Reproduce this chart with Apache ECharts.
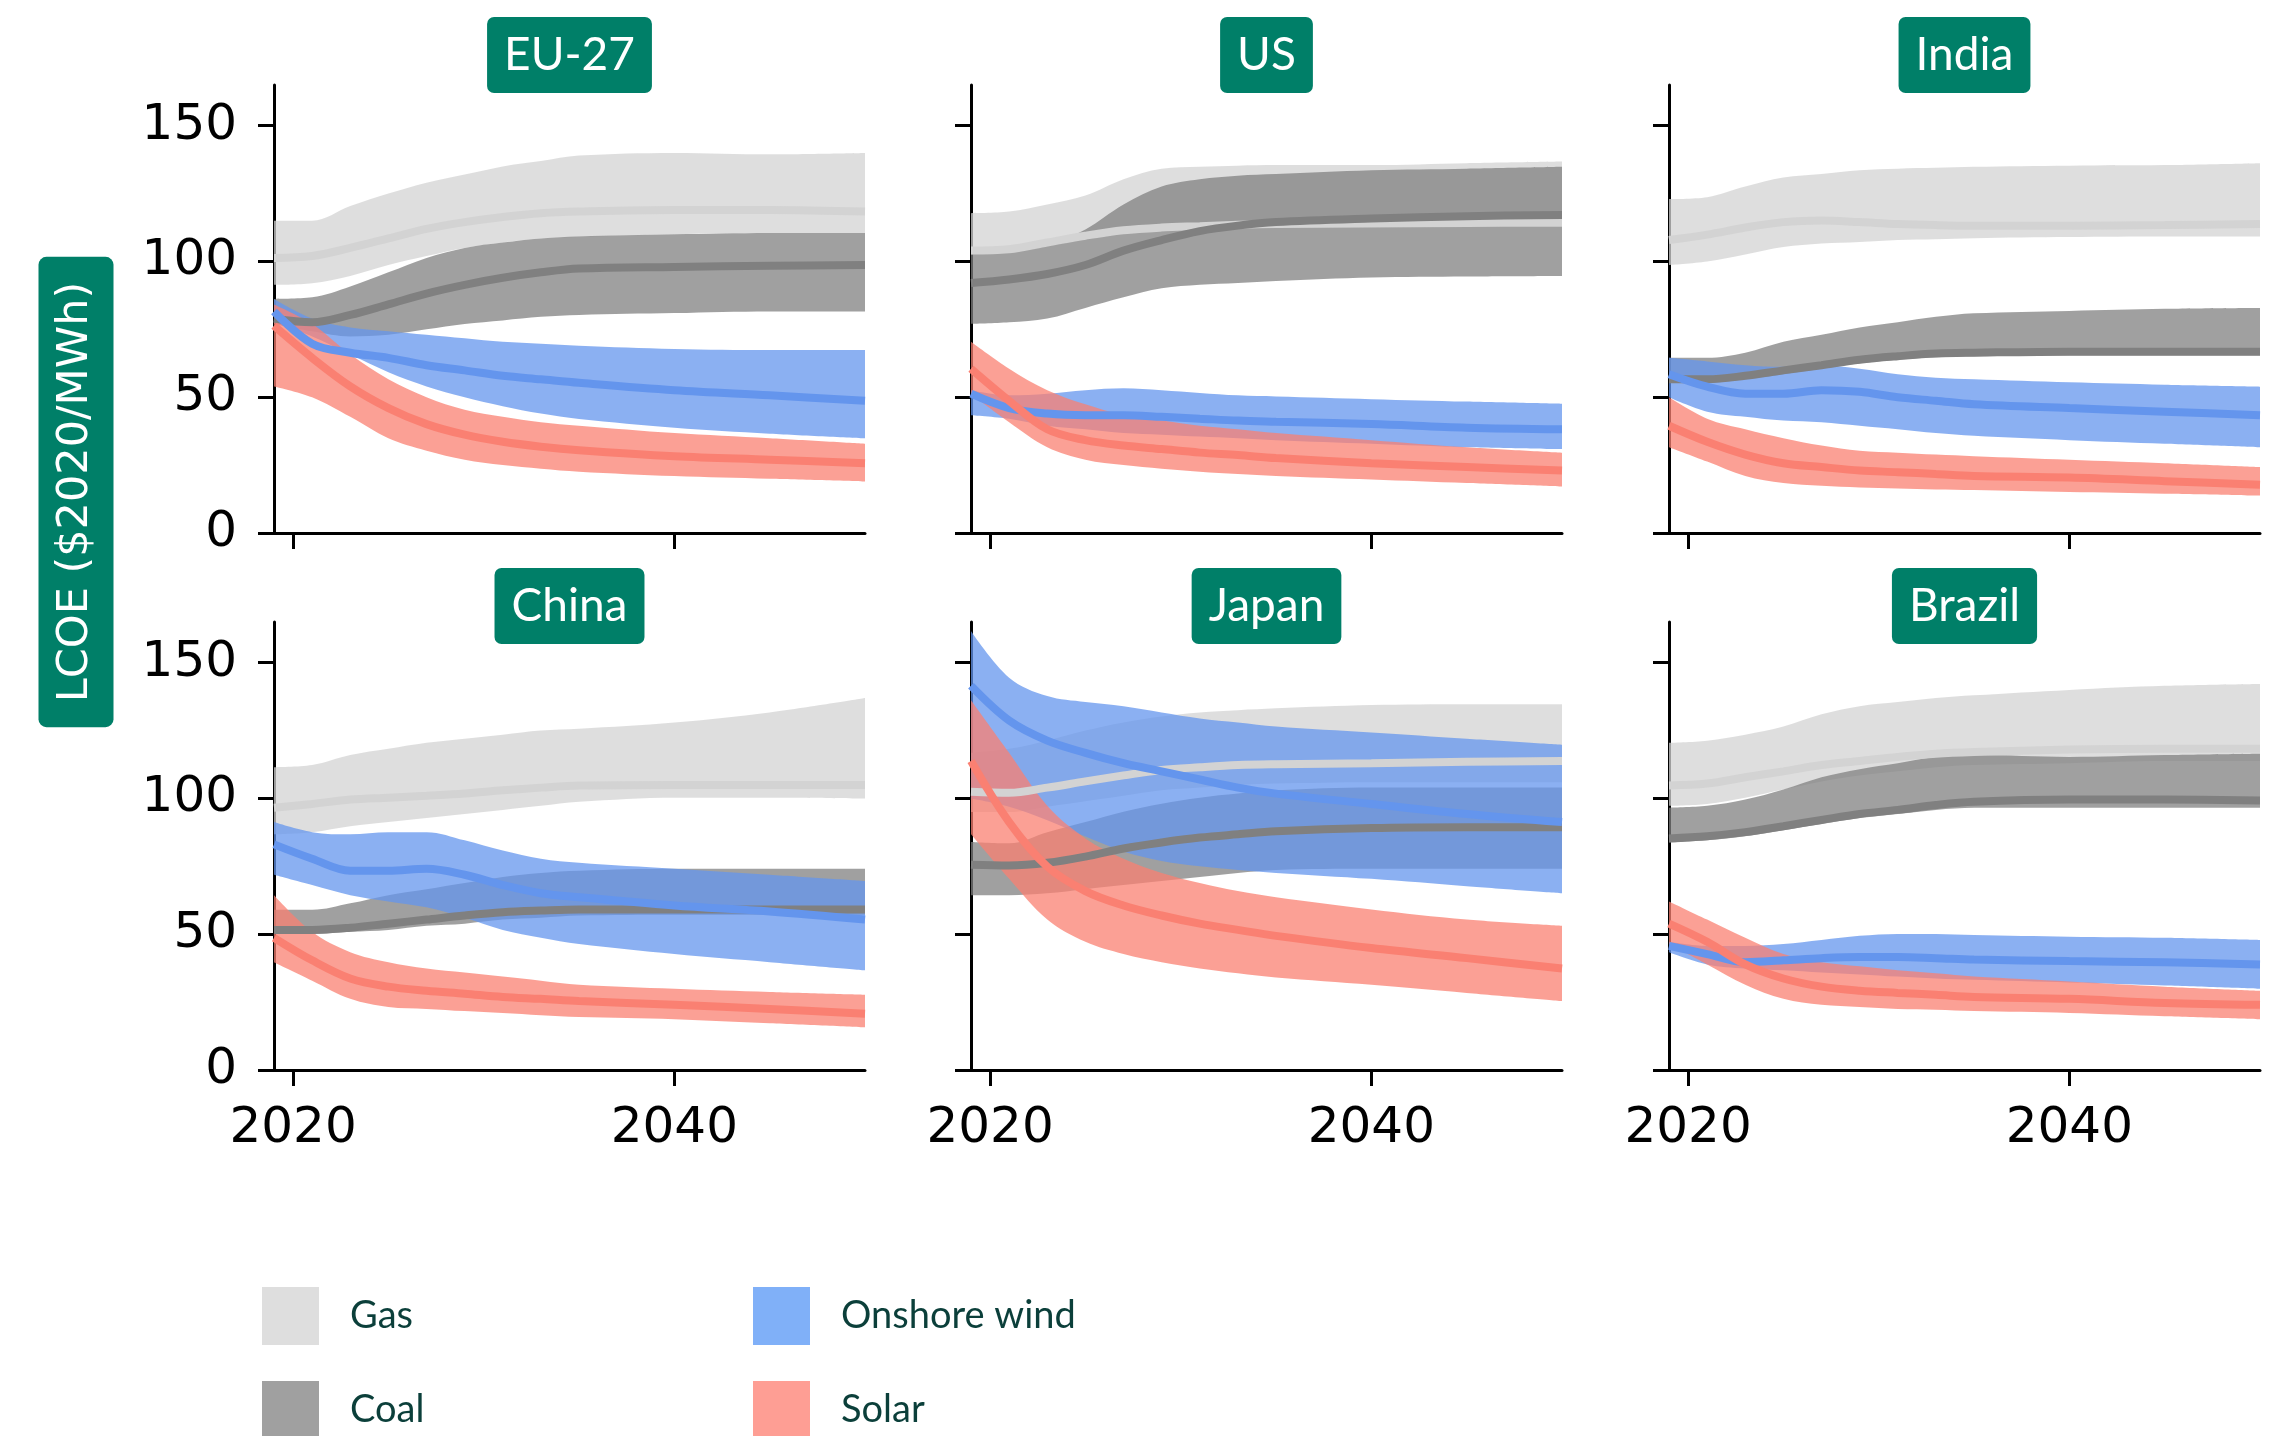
<!DOCTYPE html>
<html>
<head>
<meta charset="utf-8">
<title>LCOE projections by region</title>
<script src="https://cdn.jsdelivr.net/npm/echarts@6/dist/echarts.min.js"></script>
<style>
  html, body { margin: 0; padding: 0; background: #ffffff; }
  #chart { width: 2275px; height: 1436px; }
</style>
</head>
<body>
<div id="chart"></div>
<script>
// Sample years shared by every curve
const YEARS = [2019, 2021, 2023, 2025, 2027, 2029, 2031, 2033, 2035, 2040, 2045, 2050];

const REGIONS = ['EU-27', 'US', 'India', 'China', 'Japan', 'Brazil'];
const TECHS = ['Gas', 'Coal', 'Onshore wind', 'Solar'];
const X_TICKS = [2020, 2040];
const Y_TICKS = [0, 50, 100, 150];

// LCOE ($2020/MWh): low / median / high per region and technology
// EU-27
const EU27_GAS_LO  = [91.4, 92, 94.7, 98.7, 102, 105, 107, 108.5, 109, 110, 110.5, 110.5];
const EU27_GAS_MID = [101.3, 102, 105, 108.5, 112, 114.5, 116.4, 117.8, 118.4, 119, 119, 118.4];
const EU27_GAS_HI  = [115, 115, 120.4, 125, 129, 132, 135, 137, 139, 140, 139.5, 140];
const EU27_COAL_LO  = [77, 74.3, 72.4, 73, 75, 77, 78.3, 79.6, 80.3, 81, 81.6, 81.6];
const EU27_COAL_MID = [79, 77.6, 80.3, 84.2, 88.2, 91.4, 94, 96, 97.4, 98, 98.4, 98.7];
const EU27_COAL_HI  = [86.2, 86.8, 90.8, 96, 101.3, 105, 107, 108.5, 109.2, 110, 110.5, 110.5];
const EU27_WIND_LO  = [77.6, 72.4, 65.8, 59.2, 54, 50, 46.7, 44, 42, 38.8, 36.6, 34.9];
const EU27_WIND_MID = [81.6, 69.7, 66.4, 64.5, 61.8, 59.9, 57.9, 56.6, 55.3, 52.6, 50.7, 48.7];
const EU27_WIND_HI  = [86.2, 79, 75.7, 74.3, 73, 71.7, 70.4, 69.7, 69, 67.8, 67.4, 67.4];
const EU27_SOLAR_LO  = [54, 50, 42.8, 34.9, 30.3, 27, 25, 23.7, 22.6, 21, 20, 19];
const EU27_SOLAR_MID = [76.3, 64.5, 54, 46, 40.1, 36.2, 33.6, 31.8, 30.5, 28.3, 27, 25.7];
const EU27_SOLAR_HI  = [84.2, 77, 65.8, 56.6, 50, 45.4, 42.8, 40.8, 39.5, 36.8, 34.9, 32.9];

// US
const US_GAS_LO  = [102.5, 103, 105.5, 108, 110, 111, 111.5, 112, 112.3, 112.5, 112.7, 112.8];
const US_GAS_MID = [104, 104.5, 107, 109.5, 111.5, 112.5, 113, 113.5, 113.8, 114, 114.2, 114.3];
const US_GAS_HI  = [117.8, 118.4, 121, 124.3, 130.3, 134.2, 134.9, 135.3, 135.5, 135.5, 136.2, 136.8];
const US_COAL_LO  = [77, 77.6, 79, 82.9, 86.8, 90.1, 91.4, 92.1, 92.8, 94.1, 94.5, 94.7];
const US_COAL_MID = [92.1, 93.4, 95.4, 98.7, 104, 107.9, 111.2, 113.2, 114.5, 115.8, 116.7, 117.1];
const US_COAL_HI  = [103.3, 104, 106, 111.8, 121, 127.6, 130.3, 131.6, 132.2, 133.6, 134.2, 134.9];
const US_WIND_LO  = [43.4, 42.1, 39.5, 38.2, 36.8, 36.2, 35.5, 34.9, 34.2, 32.9, 31.6, 30.9];
const US_WIND_MID = [51.3, 46, 44, 43.4, 43.4, 42.8, 42.1, 41.4, 41, 40.1, 38.8, 38.2];
const US_WIND_HI  = [52.6, 50.7, 51.3, 52.6, 53.3, 52.6, 51.6, 50.7, 50.3, 49.3, 48.4, 47.6];
const US_SOLAR_LO  = [51.3, 40.8, 31.6, 27, 25, 23.7, 22.6, 21.7, 21, 19.7, 18.4, 17.1];
const US_SOLAR_MID = [60.5, 48.7, 38.2, 34.2, 32.2, 30.9, 29.6, 28.7, 27.6, 25.7, 24.3, 23];
const US_SOLAR_HI  = [70.4, 60.5, 52.6, 47.4, 43.4, 41.4, 39.5, 38.2, 36.8, 34.2, 31.6, 29.6];

// India
const IN_GAS_LO  = [98.7, 100, 102.6, 105.3, 106.6, 107.2, 107.9, 108.2, 108.6, 109, 109.2, 109.2];
const IN_GAS_MID = [107.9, 109.9, 112.5, 114.5, 115.1, 114.5, 113.8, 113.4, 113.2, 113.2, 113.4, 113.8];
const IN_GAS_HI  = [123, 123.7, 127.6, 130.9, 132.2, 133.6, 134.2, 134.5, 134.9, 135.3, 135.5, 136.2];
const IN_COAL_LO  = [55.3, 55.3, 56.6, 58.5, 60.5, 62.5, 63.8, 64.7, 65.1, 65.5, 65.5, 65.5];
const IN_COAL_MID = [56.6, 56.6, 57.9, 59.9, 61.8, 63.8, 65.1, 66.1, 66.4, 66.8, 66.8, 66.8];
const IN_COAL_HI  = [64.5, 64.5, 66.4, 70.4, 73, 75.7, 77.6, 79.6, 80.9, 81.8, 82.6, 82.9];
const IN_WIND_LO  = [50, 44.7, 42.8, 41.4, 40.8, 39.5, 38.2, 36.8, 35.8, 34.2, 32.9, 31.6];
const IN_WIND_MID = [58.5, 53.9, 51.3, 51.3, 52.6, 52, 50, 48.7, 47.4, 46, 44.7, 43.4];
const IN_WIND_HI  = [64.5, 63.2, 61.8, 61.2, 61.8, 60.5, 58.5, 57.2, 56.6, 55.5, 54.6, 53.9];
const IN_SOLAR_LO  = [31.6, 26.3, 21, 18.4, 17.4, 16.8, 16.4, 16, 15.8, 15.1, 14.5, 13.8];
const IN_SOLAR_MID = [39.5, 33.6, 28.9, 25.7, 24.3, 23, 22.4, 21.7, 21, 20.4, 19.1, 17.8];
const IN_SOLAR_HI  = [50, 42.1, 38.2, 34.9, 32.2, 30.3, 29.6, 28.9, 28.3, 27, 25.7, 24.3];

// China
const CN_GAS_LO  = [86.8, 87.6, 89.8, 91.3, 92.8, 94.3, 95.8, 97.3, 98.8, 100.3, 100.3, 100];
const CN_GAS_MID = [96.6, 98, 99.6, 100.3, 101, 101.8, 103, 104, 104.8, 105, 105, 105];
const CN_GAS_HI  = [111.5, 112.3, 116, 118.3, 120.5, 122, 123.5, 125, 125.7, 128, 131.7, 137];
const CN_COAL_LO  = [50.1, 50.1, 50.9, 51.6, 53.1, 53.9, 55.4, 56.1, 56.9, 57.2, 57.2, 57.2];
const CN_COAL_MID = [51.6, 51.6, 52.4, 53.9, 55.4, 56.9, 58.1, 58.7, 59.1, 59.1, 59.1, 59.1];
const CN_COAL_HI  = [59, 59, 61.4, 64.4, 66.6, 68.9, 71.1, 72.6, 73.4, 74.1, 74.1, 74.1];
const CN_WIND_LO  = [71.9, 68.1, 64.4, 62.1, 59.9, 56.1, 51.6, 48.7, 46.4, 42.7, 39.7, 36.7];
const CN_WIND_MID = [83.1, 77.8, 73.4, 73.4, 74.1, 71.9, 68.1, 65.1, 63.6, 60.6, 58.4, 55.4];
const CN_WIND_HI  = [91.3, 87.6, 86.8, 87.6, 87.6, 84.6, 80.8, 77.8, 76.3, 74.1, 71.9, 69.6];
const CN_SOLAR_LO  = [39.7, 32.9, 26.2, 23.2, 22.5, 21.7, 21, 20.2, 19.5, 18.7, 17.2, 15.7];
const CN_SOLAR_MID = [48.7, 40.4, 33.7, 30.7, 29.2, 28.1, 26.9, 26.2, 25.4, 24, 22.5, 20.7];
const CN_SOLAR_HI  = [64.4, 50.9, 43.4, 39.7, 37.4, 35.9, 34.4, 32.9, 31.4, 29.9, 28.7, 27.7];

// Japan
const JP_GAS_LO  = [95, 95, 97, 99, 101, 103, 104, 105, 105.5, 106, 106, 106];
const JP_GAS_MID = [102.5, 102.1, 104, 106.3, 108.5, 110.5, 111.5, 112.3, 112.6, 113, 113.5, 113.8];
const JP_GAS_HI  = [116.8, 118.3, 121.3, 125, 128, 130.2, 131.7, 132.5, 133.2, 134.4, 134.7, 134.7];
const JP_COAL_LO  = [64.4, 64.4, 65.1, 66.6, 68.1, 69.6, 71.1, 72.6, 73.7, 74.1, 74.1, 74.1];
const JP_COAL_MID = [75.6, 75.3, 76.3, 78.6, 81.6, 83.8, 85.6, 86.8, 87.9, 89.1, 89.4, 89.4];
const JP_COAL_HI  = [84, 83.5, 87.6, 91.3, 95.1, 98.1, 100.3, 101.8, 103, 104, 104, 104];
const JP_WIND_LO  = [100, 97, 92, 86, 80.5, 77, 75, 73.7, 72.6, 70.4, 67.7, 65.1];
const JP_WIND_MID = [141.5, 128.7, 121.3, 116.8, 113, 110, 107, 104, 101.8, 98, 94.3, 91.3];
const JP_WIND_HI  = [161.7, 144.5, 137.7, 135.5, 134, 131.7, 129.5, 128, 126.5, 124.3, 122, 119.8];
const JP_SOLAR_LO  = [86.8, 70.4, 55.4, 47.2, 42.7, 39.7, 37.4, 35.6, 34.1, 31.4, 28.4, 25.4];
const JP_SOLAR_MID = [113.8, 91.3, 74.9, 65.9, 60.6, 56.9, 53.9, 51.6, 49.4, 44.9, 41.2, 37.4];
const JP_SOLAR_HI  = [136.2, 116.8, 97.3, 85.3, 77.8, 72.6, 68.9, 65.9, 63.6, 59.1, 55.4, 53.1];

// Brazil
const BR_GAS_LO  = [97.3, 98, 100.3, 103.3, 106.3, 108.5, 110, 111.5, 112.3, 113, 113.8, 113.8];
const BR_GAS_MID = [104.8, 105.5, 107.8, 110, 112.3, 113.8, 115.3, 116.5, 117.1, 118, 118.3, 118.3];
const BR_GAS_HI  = [120.5, 121.3, 123.5, 126.5, 131, 134, 135.5, 137, 138, 140, 141.5, 142.2];
const BR_COAL_LO  = [83.8, 84.6, 86.1, 88.3, 90.6, 92.8, 94.3, 95.8, 96.6, 96.6, 96.6, 96.6];
const BR_COAL_MID = [85.3, 86.1, 87.6, 89.8, 92.1, 94.3, 95.8, 97.6, 98.8, 99.6, 99.6, 99.3];
const BR_COAL_HI  = [96.6, 97.3, 99.6, 103.3, 107.8, 110.8, 113, 115.3, 116, 115.3, 116, 116.5];
const BR_WIND_LO  = [43.4, 38.9, 37.4, 36.7, 35.9, 35.2, 34.4, 33.7, 33.2, 32.2, 31.1, 29.9];
const BR_WIND_MID = [45.7, 42.7, 39.7, 40.4, 41.2, 41.6, 41.6, 41.2, 40.7, 40.1, 39.7, 38.9];
const BR_WIND_HI  = [47.2, 45.7, 45.7, 46.4, 47.9, 49.4, 50.1, 50.1, 49.7, 49.1, 48.7, 47.9];
const BR_SOLAR_LO  = [46.4, 38.9, 31.4, 26.2, 24, 23.2, 22.5, 22.2, 21.7, 21, 19.8, 18.7];
const BR_SOLAR_MID = [53.9, 47.2, 38.9, 33.7, 30.7, 29.2, 28.4, 27.7, 26.9, 26.2, 24.7, 24];
const BR_SOLAR_HI  = [62.1, 55.4, 48.7, 42.7, 39.7, 38.2, 36.7, 35.6, 34.4, 32.6, 30.7, 29.2];

// [low, median, high] triplets in TECHS order, one row per region in REGIONS order
const PANEL_DATA = [
  [[EU27_GAS_LO, EU27_GAS_MID, EU27_GAS_HI], [EU27_COAL_LO, EU27_COAL_MID, EU27_COAL_HI],
   [EU27_WIND_LO, EU27_WIND_MID, EU27_WIND_HI], [EU27_SOLAR_LO, EU27_SOLAR_MID, EU27_SOLAR_HI]],
  [[US_GAS_LO, US_GAS_MID, US_GAS_HI], [US_COAL_LO, US_COAL_MID, US_COAL_HI],
   [US_WIND_LO, US_WIND_MID, US_WIND_HI], [US_SOLAR_LO, US_SOLAR_MID, US_SOLAR_HI]],
  [[IN_GAS_LO, IN_GAS_MID, IN_GAS_HI], [IN_COAL_LO, IN_COAL_MID, IN_COAL_HI],
   [IN_WIND_LO, IN_WIND_MID, IN_WIND_HI], [IN_SOLAR_LO, IN_SOLAR_MID, IN_SOLAR_HI]],
  [[CN_GAS_LO, CN_GAS_MID, CN_GAS_HI], [CN_COAL_LO, CN_COAL_MID, CN_COAL_HI],
   [CN_WIND_LO, CN_WIND_MID, CN_WIND_HI], [CN_SOLAR_LO, CN_SOLAR_MID, CN_SOLAR_HI]],
  [[JP_GAS_LO, JP_GAS_MID, JP_GAS_HI], [JP_COAL_LO, JP_COAL_MID, JP_COAL_HI],
   [JP_WIND_LO, JP_WIND_MID, JP_WIND_HI], [JP_SOLAR_LO, JP_SOLAR_MID, JP_SOLAR_HI]],
  [[BR_GAS_LO, BR_GAS_MID, BR_GAS_HI], [BR_COAL_LO, BR_COAL_MID, BR_COAL_HI],
   [BR_WIND_LO, BR_WIND_MID, BR_WIND_HI], [BR_SOLAR_LO, BR_SOLAR_MID, BR_SOLAR_HI]]
];

// Colours: translucent band, solid median line, legend swatch
const STYLE = {
  'Gas':          { band: 'rgba(211,211,211,0.75)', line: '#d3d3d3', key: '#dedede' },
  'Coal':         { band: 'rgba(128,128,128,0.75)', line: '#808080', key: '#a0a0a0' },
  'Onshore wind': { band: 'rgba(100,149,237,0.75)', line: '#6495ed', key: '#80b0f8' },
  'Solar':        { band: 'rgba(250,128,114,0.75)', line: '#fa8072', key: '#fe9e94' }
};

// Panel geometry
const COL_LEFT = [274, 971, 1669];
const ROW_TOP = [85, 622];
const PANEL_W = 591;
const PANEL_H = 448;
const TITLE_Y = [55, 606];
const BADGE = '#007f68';
const SMOOTH = 0.35;

// Bezier path through pixel points, using the same control-point rule as
// ECharts' smoothed line, so band edges follow the median curves' style.
function smoothSegment(pts, smooth, startCmd) {
  const mn = Math.min, mx = Math.max;
  let d = '';
  let prevX = 0, prevY = 0, cpx0 = 0, cpy0 = 0;
  for (let k = 0; k < pts.length; k++) {
    const x = pts[k][0], y = pts[k][1];
    if (k === 0) {
      d += startCmd + x.toFixed(2) + ' ' + y.toFixed(2);
      cpx0 = x; cpy0 = y;
    } else {
      let cpx1, cpy1, nextCpx0, nextCpy0;
      if (k + 1 >= pts.length) {
        cpx1 = x; cpy1 = y; nextCpx0 = x; nextCpy0 = y;
      } else {
        const nextX = pts[k + 1][0], nextY = pts[k + 1][1];
        let vx = nextX - prevX, vy = nextY - prevY;
        const dx0 = x - prevX, dy0 = y - prevY, dx1 = nextX - x, dy1 = nextY - y;
        const lenPrev = Math.sqrt(dx0 * dx0 + dy0 * dy0);
        const lenNext = Math.sqrt(dx1 * dx1 + dy1 * dy1);
        const ratio = lenNext / (lenNext + lenPrev);
        nextCpx0 = x + vx * smooth * ratio;
        nextCpy0 = y + vy * smooth * ratio;
        nextCpx0 = mx(mn(nextCpx0, mx(nextX, x)), mn(nextX, x));
        nextCpy0 = mx(mn(nextCpy0, mx(nextY, y)), mn(nextY, y));
        vx = nextCpx0 - x; vy = nextCpy0 - y;
        cpx1 = x - vx * lenPrev / lenNext;
        cpy1 = y - vy * lenPrev / lenNext;
        cpx1 = mx(mn(cpx1, mx(prevX, x)), mn(prevX, x));
        cpy1 = mx(mn(cpy1, mx(prevY, y)), mn(prevY, y));
        vx = x - cpx1; vy = y - cpy1;
        nextCpx0 = x + vx * lenNext / lenPrev;
        nextCpy0 = y + vy * lenNext / lenPrev;
      }
      d += 'C' + cpx0.toFixed(2) + ' ' + cpy0.toFixed(2) + ' ' + cpx1.toFixed(2) + ' ' +
           cpy1.toFixed(2) + ' ' + x.toFixed(2) + ' ' + y.toFixed(2);
      cpx0 = nextCpx0; cpy0 = nextCpy0;
    }
    prevX = x; prevY = y;
  }
  return d;
}

// Draws one closed band (high edge forward, low edge back) for the whole series
function bandRenderer(fill) {
  return function (params, api) {
    if (params.dataIndexInside !== 0) return null;
    const n = params.dataInsideLength;
    const upper = [], lower = [];
    for (let i = 0; i < n; i++) {
      const yr = api.value(0, i);
      upper.push(api.coord([yr, api.value(2, i)]));
      lower.push(api.coord([yr, api.value(1, i)]));
    }
    lower.reverse();
    const d = smoothSegment(upper, SMOOTH, 'M') + smoothSegment(lower, SMOOTH, 'L') + 'Z';
    return { type: 'path', shape: { pathData: d }, style: { fill: fill, stroke: null }, silent: true };
  };
}

const grids = [], xAxes = [], yAxes = [], series = [], graphics = [];
const yearLabel = v => String(v);

REGIONS.forEach((region, k) => {
  const col = k % 3, row = Math.floor(k / 3);
  grids.push({ left: COL_LEFT[col], top: ROW_TOP[row], width: PANEL_W, height: PANEL_H });

  xAxes.push({
    type: 'value', gridIndex: k, min: 2019, max: 2050,
    splitLine: { show: false },
    axisLine: { show: true, onZero: false, lineStyle: { color: '#000', width: 3 } },
    axisTick: { show: true, length: 16, customValues: X_TICKS, lineStyle: { color: '#000', width: 3 } },
    axisLabel: {
      show: row === 1, customValues: X_TICKS, margin: 34, formatter: yearLabel,
      fontFamily: 'DejaVu Sans', fontSize: 50, color: '#000'
    }
  });
  yAxes.push({
    type: 'value', gridIndex: k, min: 0, max: 165,
    splitLine: { show: false },
    axisLine: { show: true, onZero: false, lineStyle: { color: '#000', width: 3 } },
    axisTick: { show: true, length: 16, customValues: Y_TICKS, lineStyle: { color: '#000', width: 3 } },
    axisLabel: {
      show: col === 0, customValues: Y_TICKS, margin: 37,
      fontFamily: 'DejaVu Sans', fontSize: 50, color: '#000'
    }
  });

  // Uncertainty bands, low..high
  TECHS.forEach((tech, t) => {
    const [lo, , hi] = PANEL_DATA[k][t];
    series.push({
      type: 'custom', name: tech, coordinateSystem: 'cartesian2d',
      xAxisIndex: k, yAxisIndex: k, clip: true, silent: true, z: 2,
      itemStyle: { color: STYLE[tech].key },
      encode: { x: 0, y: [1, 2] },
      data: YEARS.map((yr, i) => [yr, lo[i], hi[i]]),
      renderItem: bandRenderer(STYLE[tech].band)
    });
  });

  // Panel badge
  graphics.push({
    type: 'text', x: COL_LEFT[col] + PANEL_W / 2, y: TITLE_Y[row], z: 10,
    style: {
      text: region, fill: '#ffffff', align: 'center', verticalAlign: 'middle',
      font: '46px Lato', backgroundColor: BADGE, padding: [15, 17, 15, 17], borderRadius: 7
    }
  });
});

// Median lines on top of all bands
REGIONS.forEach((region, k) => {
  TECHS.forEach((tech, t) => {
    const mid = PANEL_DATA[k][t][1];
    series.push({
      type: 'line', name: tech + ' median', xAxisIndex: k, yAxisIndex: k,
      data: YEARS.map((yr, i) => [yr, mid[i]]), symbol: 'none', smooth: SMOOTH, silent: true,
      lineStyle: { color: STYLE[tech].line, width: 8 }, z: 3
    });
  });
});

// Shared y-axis title badge
graphics.push({
  type: 'text', x: 76, y: 492, rotation: Math.PI / 2, z: 10,
  style: {
    text: 'LCOE ($2020/MWh)', fill: '#ffffff', align: 'center', verticalAlign: 'middle',
    font: '43px "DejaVu Sans"', backgroundColor: BADGE, padding: [16, 25, 16, 25], borderRadius: 8
  }
});

const legendCommon = {
  orient: 'vertical', top: 1282, height: 260, itemWidth: 57, itemHeight: 58, itemGap: 36,
  icon: 'rect', selectedMode: false,
  itemStyle: { borderWidth: 0 },
  textStyle: { fontFamily: 'Lato', fontSize: 38, color: '#0b3f3a', padding: [0, 0, 0, 26] }
};

const option = {
  animation: false,
  backgroundColor: '#ffffff',
  grid: grids,
  xAxis: xAxes,
  yAxis: yAxes,
  legend: [
    Object.assign({}, legendCommon, {
      left: 257,
      data: TECHS.slice(0, 2).map(n => ({ name: n, itemStyle: { color: STYLE[n].key } }))
    }),
    Object.assign({}, legendCommon, {
      left: 748,
      data: TECHS.slice(2).map(n => ({ name: n, itemStyle: { color: STYLE[n].key } }))
    })
  ],
  graphic: graphics,
  series
};

const chart = echarts.init(document.getElementById('chart'), null, { renderer: 'canvas' });
chart.setOption(option);
</script>
</body>
</html>
